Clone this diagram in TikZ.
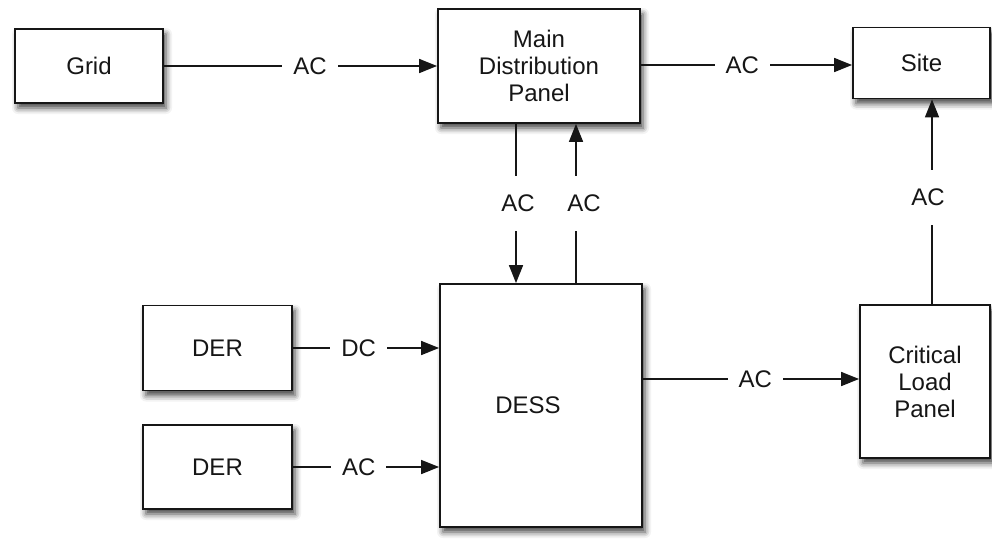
\documentclass[tikz,border=0pt]{standalone}
\usepackage{fontspec}
\setmainfont{Liberation Sans}
\usetikzlibrary{arrows.meta,shadows.blur}
\definecolor{ink}{HTML}{161616}
\tikzset{
  box/.style={draw=ink, line width=1.8pt, fill=white, rectangle, align=center,
    text=ink, font=\fontsize{24}{27}\selectfont,
    blur shadow={shadow xshift=3pt, shadow yshift=-5pt, shadow blur radius=6pt, shadow opacity=75}},
  arr/.style={draw=ink, line width=1.6pt, -{Triangle[length=18pt,width=14pt]}},
  hlbl/.style={fill=white, text=ink, font=\fontsize{24}{27}\selectfont, inner xsep=11pt, inner ysep=2pt},
  vlbl/.style={fill=white, text=ink, font=\fontsize{24}{27}\selectfont, inner xsep=2pt, inner ysep=19pt}
}
\begin{document}
\begin{tikzpicture}[x=1pt,y=-1pt]
\useasboundingbox (0,0) rectangle (992,552);
\node[box, minimum width=148pt, minimum height=74pt] (grid) at (89,66) {Grid};
\node[box, minimum width=202pt, minimum height=114pt] (main) at (539,66) {Main\\Distribution\\Panel};
\node[box, minimum width=137pt, minimum height=71pt] (site) at (921.5,63) {Site};
\node[box, minimum width=149pt, minimum height=85pt] (der1) at (217.5,348) {DER};
\node[box, minimum width=149pt, minimum height=84pt] (der2) at (217.5,467) {DER};
\node[box, minimum width=202pt, minimum height=243pt] (dess) at (541,405.5) {DESS\hspace*{26pt}};
\node[box, minimum width=130pt, minimum height=153pt] (clp) at (925,381.5) {Critical\\Load\\Panel};

\draw[arr] (grid.east) -- node[hlbl, pos=0.535] {AC} (grid.east -| main.west);
\draw[arr] ([yshift=1pt]main.east) -- node[hlbl, pos=0.48] {AC} ([yshift=1pt]main.east -| site.west);
\draw[arr] ([xshift=-23pt]main.south) -- node[vlbl, pos=0.5, xshift=2pt] {AC} ([xshift=-23pt]main.south |- dess.north);
\draw[arr] ([xshift=37pt]main.south |- dess.north) -- node[vlbl, pos=0.5, xshift=8pt] {AC} ([xshift=37pt]main.south);
\draw[arr] (der1.east) -- node[hlbl, pos=0.45] {DC} (der1.east -| dess.west);
\draw[arr] (der2.east) -- node[hlbl, pos=0.45] {AC} (der2.east -| dess.west);
\draw[arr] ([yshift=2.5pt]clp.west -| dess.east) -- node[hlbl, pos=0.52] {AC} ([yshift=2.5pt]clp.west);
\draw[arr] ([xshift=7pt]clp.north) -- node[vlbl, pos=0.52, xshift=-4pt] {AC} ([xshift=7pt]clp.north |- site.south);
\end{tikzpicture}
\end{document}
